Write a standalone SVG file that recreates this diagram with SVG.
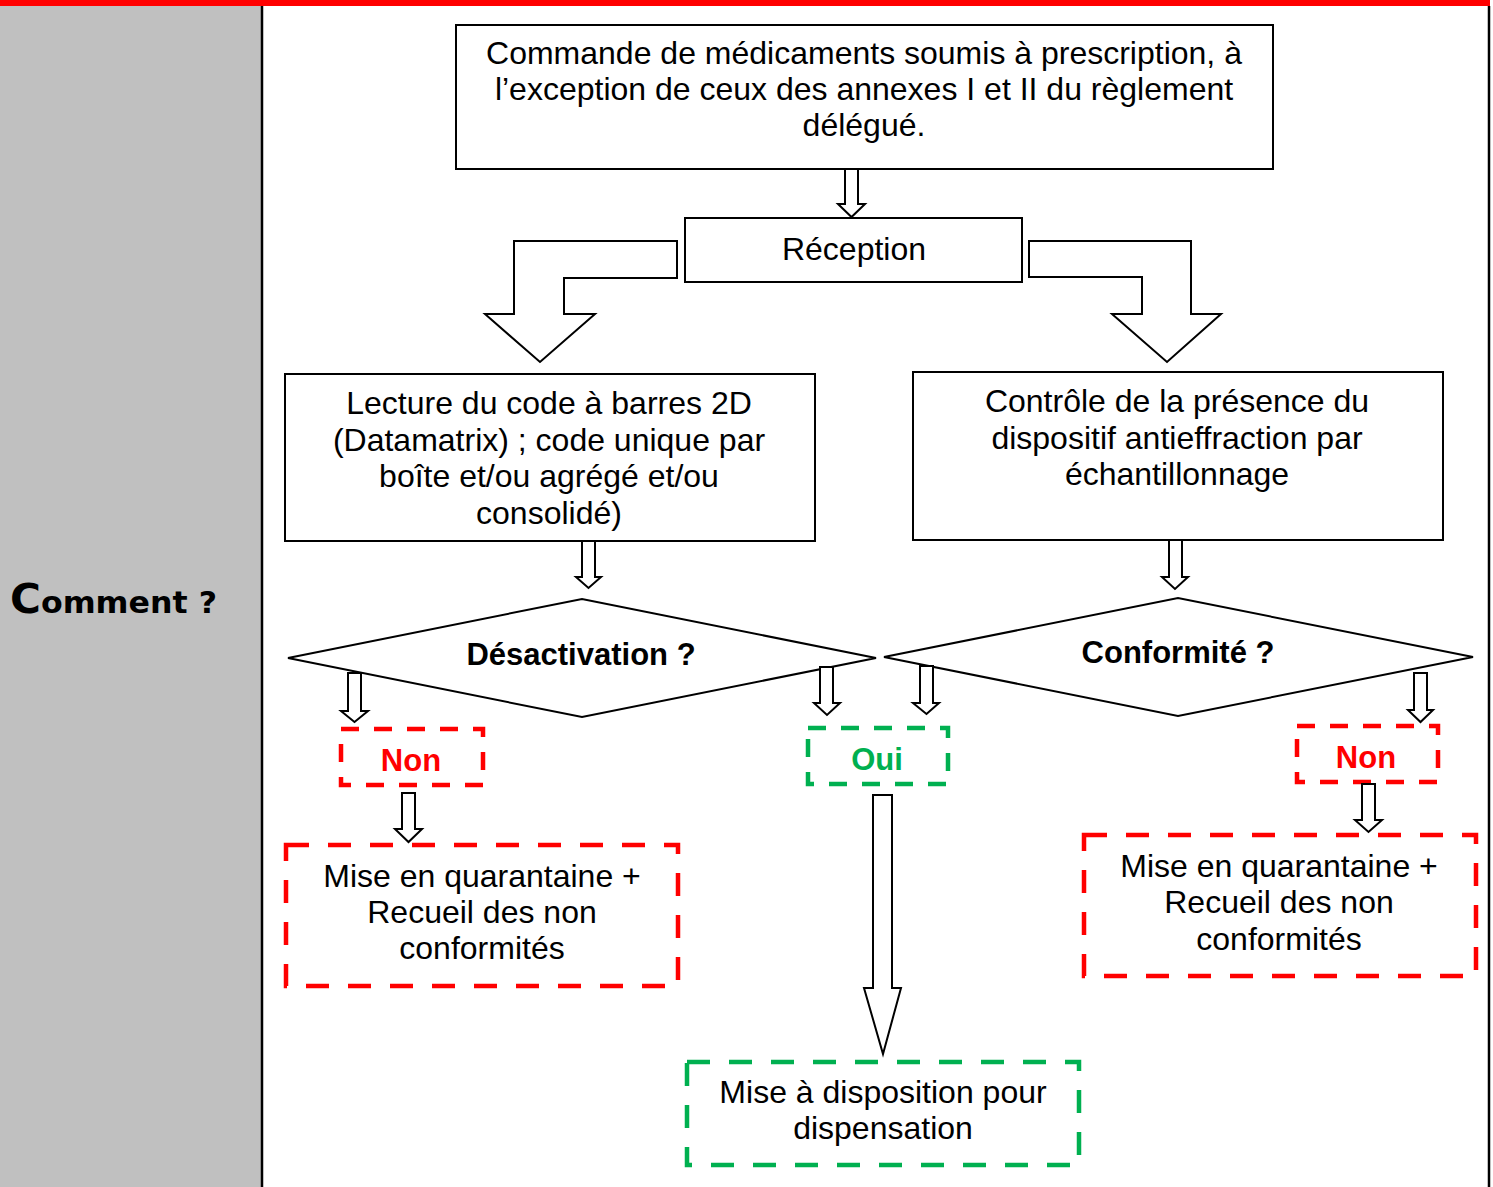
<svg xmlns="http://www.w3.org/2000/svg" width="1493" height="1187" viewBox="0 0 1493 1187">
<style>
.box{fill:#fff;stroke:#000;stroke-width:2}
.arr{fill:#fff;stroke:#000;stroke-width:2;stroke-linejoin:miter}
.red{fill:#fff;stroke:#FF0000;stroke-width:4.5}
.grn{fill:#fff;stroke:#00B050;stroke-width:4.5}
.sm{stroke-dasharray:18 15}
.lg{stroke-dasharray:23 19}
.t{font-family:"Liberation Sans",Arial,sans-serif;font-size:32px;fill:#000;text-anchor:middle}
.b{font-family:"Liberation Sans",Arial,sans-serif;font-size:31px;font-weight:bold;text-anchor:middle}
</style>
<rect x="0" y="0" width="1490" height="6" fill="#FF0000"/>
<rect x="0" y="6" width="261" height="1181" fill="#C0C0C0"/>
<line x1="262" y1="6" x2="262" y2="1187" stroke="#000" stroke-width="2.5"/>
<line x1="1489" y1="6" x2="1489" y2="1187" stroke="#000" stroke-width="2.5"/>
<g id="label-comment">
<text x="10" y="613" font-family="'DejaVu Sans',sans-serif" font-weight="bold" fill="#000" textLength="207" lengthAdjust="spacingAndGlyphs"><tspan font-size="40">C</tspan><tspan font-size="30">omment ?</tspan></text>
</g>
<g id="node-commande">
<rect class="box" x="456" y="25" width="817" height="144"/>
<text class="t" x="864" y="64">Commande de médicaments soumis à prescription, à</text>
<text class="t" x="864" y="100">l’exception de ceux des annexes I et II du règlement</text>
<text class="t" x="864" y="136">délégué.</text>
</g>
<g id="node-reception">
<rect class="box" x="685" y="218" width="337" height="64"/>
<text class="t" x="854" y="260">Réception</text>
</g>
<g id="node-lecture">
<rect class="box" x="285" y="374" width="530" height="167"/>
<text class="t" x="549" y="414">Lecture du code à barres 2D</text>
<text class="t" x="549" y="451">(Datamatrix) ; code unique par</text>
<text class="t" x="549" y="487">boîte et/ou agrégé et/ou</text>
<text class="t" x="549" y="524">consolidé)</text>
</g>
<g id="node-controle">
<rect class="box" x="913" y="372" width="530" height="168"/>
<text class="t" x="1177" y="412">Contrôle de la présence du</text>
<text class="t" x="1177" y="449">dispositif antieffraction par</text>
<text class="t" x="1177" y="485">échantillonnage</text>
</g>
<g id="node-desactivation">
<polygon class="box" points="288,658 582,599 876,658 582,717"/>
<text class="b" x="581" y="665">Désactivation ?</text>
</g>
<g id="node-conformite">
<polygon class="box" points="884,657 1178,598 1473,657 1178,716"/>
<text class="b" x="1178" y="663">Conformité ?</text>
</g>
<g id="node-non-left">
<rect class="red sm" x="341" y="729" width="142" height="56"/>
<text class="b" x="411" y="771" fill="#FF0000">Non</text>
</g>
<g id="node-oui">
<rect class="grn sm" x="808" y="728" width="140" height="56"/>
<text class="b" x="877" y="770" fill="#00B050">Oui</text>
</g>
<g id="node-non-right">
<rect class="red sm" x="1297" y="726" width="141" height="56"/>
<text class="b" x="1366" y="768" fill="#FF0000">Non</text>
</g>
<g id="node-quarantaine-left">
<rect class="red lg" x="286" y="845" width="392" height="141"/>
<text class="t" x="482" y="887">Mise en quarantaine +</text>
<text class="t" x="482" y="923">Recueil des non</text>
<text class="t" x="482" y="959">conformités</text>
</g>
<g id="node-quarantaine-right">
<rect class="red lg" x="1084" y="835" width="392" height="141"/>
<text class="t" x="1279" y="877">Mise en quarantaine +</text>
<text class="t" x="1279" y="913">Recueil des non</text>
<text class="t" x="1279" y="950">conformités</text>
</g>
<g id="node-dispensation">
<rect class="grn lg" x="687" y="1062" width="392" height="103"/>
<text class="t" x="883" y="1103">Mise à disposition pour</text>
<text class="t" x="883" y="1139">dispensation</text>
</g>
<g id="connectors">
<path class="arr" d="M845,169 L858,169 L858,204 L865,204 L851.5,217 L838,204 L845,204 Z"/>
<path class="arr" d="M677,241 L514,241 L514,314 L485,314 L540,362 L595,314 L564,314 L564,278 L677,278 Z"/>
<path class="arr" d="M1029,241 L1191,241 L1191,314 L1221,314 L1167,362 L1112,314 L1142,314 L1142,277 L1029,277 Z"/>
<path class="arr" d="M582,541 L595,541 L595,577 L601,577 L588.5,588 L576,577 L582,577 Z"/>
<path class="arr" d="M1169,540 L1182,540 L1182,577 L1188,577 L1175,589 L1162,577 L1169,577 Z"/>
<path class="arr" d="M348,673 L361,673 L361,711 L368,711 L354.5,722 L341,711 L348,711 Z"/>
<path class="arr" d="M820,667 L833,667 L833,703 L840,703 L827,715 L814,703 L820,703 Z"/>
<path class="arr" d="M920,666 L933,666 L933,703 L939,703 L926.5,714 L913,703 L920,703 Z"/>
<path class="arr" d="M1414,673 L1427,673 L1427,710 L1433,710 L1420.5,722 L1408,710 L1414,710 Z"/>
<path class="arr" d="M402,793 L415,793 L415,829 L422,829 L408.5,842 L395,829 L402,829 Z"/>
<path class="arr" d="M1362,784 L1375,784 L1375,820 L1382,820 L1368.5,832 L1355,820 L1362,820 Z"/>
<path class="arr" d="M873,795 L892,795 L892,988 L901,988 L883,1054 L864,988 L873,988 Z"/>
</g>
</svg>
